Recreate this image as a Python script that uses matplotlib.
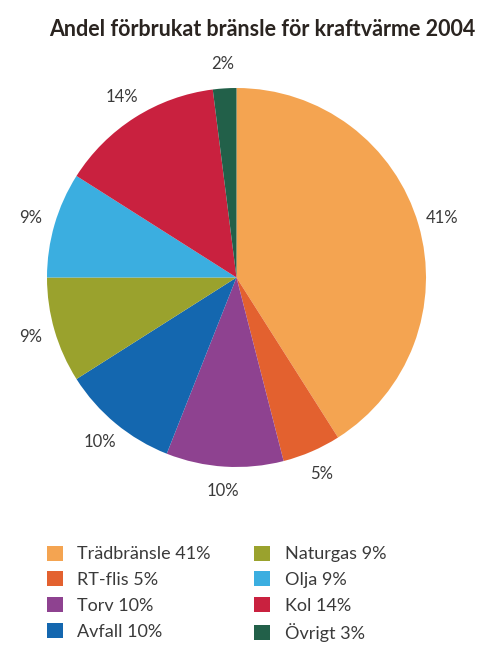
import matplotlib.pyplot as plt

# data
fuels = ['Trädbränsle', 'RT-flis', 'Torv', 'Avfall', 'Naturgas', 'Olja', 'Kol', 'Övrigt']
shares = [41, 5, 10, 10, 9, 9, 14, 2]          # slice sizes as drawn
pie_labels = ['41%', '5%', '10%', '10%', '9%', '9%', '14%', '2%']
legend_pct = ['41%', '5%', '10%', '10%', '9%', '9%', '14%', '3%']
colors = ['#F4A451', '#E3612F', '#8E4290', '#1467AF',
          '#9AA22D', '#3BAEE0', '#C9213F', '#226049']

plt.rcParams['font.family'] = ['Lato', 'DejaVu Sans']

fig = plt.figure(figsize=(4.81, 6.46), dpi=100)
ax = fig.add_axes([47/481, (646-467)/646, 379/481, 379/646])

wedges, texts = ax.pie(shares, labels=pie_labels, colors=colors,
                       startangle=90, counterclock=False,
                       labeldistance=1.13, radius=1,
                       textprops={'fontsize': 12, 'color': '#3a3a3a'})
for t in texts:
    t.set_ha('center')
    t.set_va('center')
    t.set_clip_on(False)
ax.set_xlim(-1, 1)
ax.set_ylim(-1, 1)
ax.set_aspect('equal')

fig.text(262/481, 1 - 30/646, 'Andel förbrukat bränsle för kraftvärme 2004',
         ha='center', va='center', fontsize=15.5, fontweight='bold', color='#2a2420')

leg_text = [f + ' ' + p for f, p in zip(fuels, legend_pct)]
leg = fig.legend(wedges, leg_text, ncol=2, loc='upper left',
                 bbox_to_anchor=(34/481, 1 - 533/646), frameon=False,
                 fontsize=13, handlelength=0.9, handleheight=0.9,
                 handletextpad=0.8, columnspacing=2.4, labelspacing=0.5,
                 borderaxespad=0.3, labelcolor='#3a3a3a')

plt.savefig('out.png', dpi=100)
